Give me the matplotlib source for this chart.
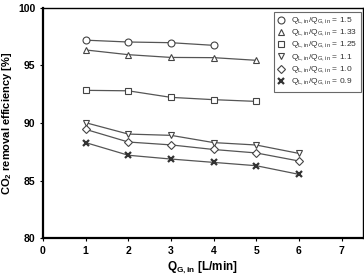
import matplotlib
matplotlib.use("Agg")
import matplotlib.pyplot as plt

plt.rcParams['font.family'] = ['Liberation Sans', 'DejaVu Sans']

x_vals = [1, 2, 3, 4, 5, 6]
ratio_labels = ["1.5", "1.33", "1.25", "1.1", "1.0", "0.9"]
eff_15 = [97.2, 97.04, 96.98, 96.75]
eff_133 = [96.35, 95.94, 95.7, 95.68, 95.45]
eff_125 = [92.84, 92.8, 92.23, 92.03, 91.88]
eff_11 = [90.03, 89.04, 88.93, 88.3, 88.09, 87.36]
eff_10 = [89.45, 88.35, 88.1, 87.7, 87.4, 86.7]
eff_09 = [88.3, 87.2, 86.87, 86.58, 86.29, 85.54]

series = [eff_15, eff_133, eff_125, eff_11, eff_10, eff_09]
markers = ['o', '^', 's', 'v', 'D', 'X']
msizes = [5, 5, 4.5, 5, 4, 5]

fig = plt.figure(figsize=(3.64, 2.74), dpi=100)
ax = fig.add_axes([0.118, 0.131, 0.879, 0.840])

lc = '#555555'
for vals, m, ms, lab in zip(series, markers, msizes, ratio_labels):
    xs = x_vals[:len(vals)]
    label = r'Q$_{\mathregular{L,in}}$/Q$_{\mathregular{G,in}}$ = ' + lab
    if m == 'X':
        ax.plot(xs, vals, color=lc, lw=0.9, marker='x', ms=4, mew=1.6, mec='#333333', label=label)
    else:
        ax.plot(xs, vals, color=lc, lw=0.9, marker=m, ms=ms, mfc='white', mec='#444444', mew=0.8, label=label)

ax.set_xlim(0, 7.5)
ax.set_ylim(80, 100)
ax.set_xticks(range(0, 8))
ax.set_yticks([80, 85, 90, 95, 100])
ax.tick_params(axis='both', labelsize=7.5, length=2.5, width=0.8, direction='out', pad=3)
for t in ax.get_xticklabels() + ax.get_yticklabels():
    t.set_fontweight('bold')

for s in ['left', 'bottom']:
    ax.spines[s].set_linewidth(1.6)
for s in ['top', 'right']:
    ax.spines[s].set_linewidth(1.0)

ax.set_xlabel(r'Q$_{\mathregular{G,in}}$ [L/min]', fontsize=8.5, fontweight='bold')
ax.xaxis.set_label_coords(0.5, -0.093)
ax.set_ylabel(r'CO$_{\mathregular{2}}$ removal efficiency [%]', fontsize=8, fontweight='bold')
ax.yaxis.set_label_coords(-0.09, 0.5)

leg = ax.legend(loc='upper right', fontsize=6, frameon=True, fancybox=False, edgecolor='#444444',
                handlelength=1.0, handletextpad=0.7, borderpad=0.45, labelspacing=0.12,
                borderaxespad=0, bbox_to_anchor=(0.995, 0.983))
leg.get_frame().set_linewidth(0.8)
for h in leg.legend_handles:
    h.set_linestyle('none')
for t in leg.get_texts():
    t.set_color('#333333')

fig.savefig('out.png', dpi=100)
